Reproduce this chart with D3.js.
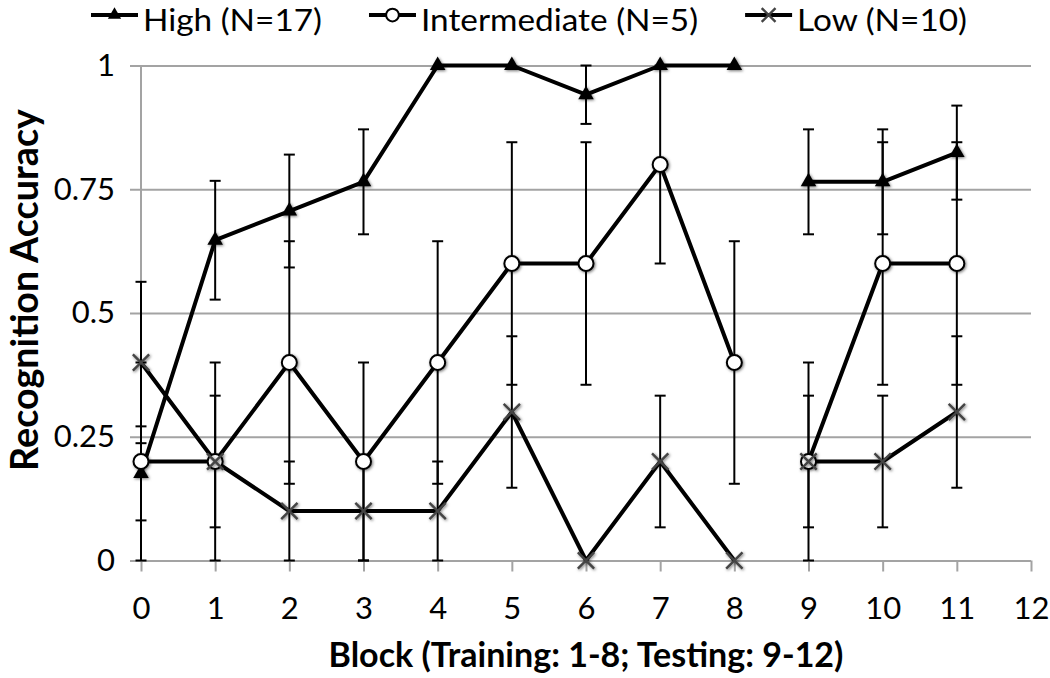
<!DOCTYPE html>
<html><head><meta charset="utf-8">
<script src="https://cdn.jsdelivr.net/npm/d3@7"></script>
<style>
body{margin:0;background:#fff;}
svg{display:block;}
text{font-family:Lato,"Open Sans",sans-serif;fill:#000;}
</style>
</head><body>
<svg id="chart" width="1050" height="678"></svg>
<script>
// ---- data ----
const blocks = [0,1,2,3,4,5,6,7,8,9,10,11];
const highValues  = [0.176,0.647,0.706,0.765,1,1,0.941,1,1,0.765,0.765,0.824];
const highErrors  = [0.095,0.120,0.114,0.106,0,0,0.059,0,0,0.106,0.106,0.095];
const interValues = [0.2,0.2,0.4,0.2,0.4,0.6,0.6,0.8,0.4,0.2,0.6,0.6];
const interErrors = [0.2,0.2,0.245,0.2,0.245,0.245,0.245,0.2,0.245,0.2,0.245,0.245];
const lowValues   = [0.4,0.2,0.1,0.1,0.1,0.3,0,0.2,0,0.2,0.2,0.3];
const lowErrors   = [0.163,0.133,0.1,0.1,0.1,0.153,0,0.133,0,0.133,0.133,0.153];
const seriesNames = ["High (N=17)","Intermediate (N=5)","Low (N=10)"];
const segmentStarts = [0, 9];           // training blocks 0-8, testing blocks 9-11
const xTicks = [0,1,2,3,4,5,6,7,8,9,10,11,12];
const yTicks = [0,0.25,0.5,0.75,1];
const yTickLabels = ["0","0.25","0.5","0.75","1"];
const xTitle = "Block (Training: 1-8; Testing: 9-12)";
const yTitle = "Recognition Accuracy";

// ---- layout ----
const svg = d3.select("#chart");
const margin = {left:141, top:65.5};
const width = 890, height = 495;
const gridColor = "#a3a3a3";

const x = d3.scaleLinear().domain([0,12]).range([0,width]);
const y = d3.scaleLinear().domain([0,1]).range([height,0]);

const defs = svg.append("defs");
const f = defs.append("filter").attr("id","glow").attr("x","-50%").attr("y","-50%").attr("width","200%").attr("height","200%");
f.append("feDropShadow").attr("dx",1).attr("dy",1).attr("stdDeviation",1.6)
  .attr("flood-color","#000").attr("flood-opacity",0.55);

const g = svg.append("g").attr("transform",`translate(${margin.left},${margin.top})`);

// y axis with gridlines
const yAxis = g.append("g").attr("transform","translate(-11,0)")
  .call(d3.axisLeft(y).tickValues(yTicks).tickFormat((d,i)=>yTickLabels[i])
        .tickSize(-(width+11)).tickPadding(15));
yAxis.select(".domain").remove();
yAxis.selectAll(".tick line").attr("stroke",gridColor).attr("stroke-width",2);
yAxis.selectAll(".tick text").attr("font-size",31).attr("font-family","Lato");

// vertical axis line
g.append("line").attr("x1",x(0)).attr("x2",x(0)).attr("y1",y(1)).attr("y2",y(0))
  .attr("stroke",gridColor).attr("stroke-width",2);

// x axis ticks
const xAxis = g.append("g").attr("transform",`translate(0,${height})`)
  .call(d3.axisBottom(x).tickValues(xTicks).tickFormat(d3.format("d")).tickSize(11).tickPadding(25));
xAxis.select(".domain").remove();
xAxis.selectAll(".tick line").attr("stroke",gridColor).attr("stroke-width",2);
xAxis.selectAll(".tick text").attr("font-size",31).attr("font-family","Lato");

// series
const series = [
  {name:seriesNames[0], values:highValues,  errors:highErrors,  type:"tri"},
  {name:seriesNames[1], values:interValues, errors:interErrors, type:"circle"},
  {name:seriesNames[2], values:lowValues,   errors:lowErrors,   type:"x"}
];

function drawMarker(sel, type, k){
  k = k || 1;
  if(type==="tri"){
    sel.append("path").attr("d",d3.symbol(d3.symbolTriangle).size(105*k*k)()).attr("fill","#000");
  } else if(type==="circle"){
    sel.append("circle").attr("r",7.5*k).attr("fill","#fff").attr("stroke","#000").attr("stroke-width",2);
  } else {
    sel.append("path").attr("d",d3.symbol(d3.symbolX).size(175*k*k)())
      .attr("fill","none").attr("stroke","#444").attr("stroke-width",2.4);
  }
}

// error bars
const eb = g.append("g");
series.forEach(s=>{
  blocks.forEach((b,i)=>{
    const e = s.errors[i];
    if(!e) return;
    const lo = Math.max(0,s.values[i]-e), hi = Math.min(1,s.values[i]+e);
    const cx = x(b);
    eb.append("line").attr("x1",cx).attr("x2",cx).attr("y1",y(lo)).attr("y2",y(hi))
      .attr("stroke","#000").attr("stroke-width",2);
    [lo,hi].forEach(v=>{
      eb.append("line").attr("x1",cx-5.5).attr("x2",cx+5.5).attr("y1",y(v)).attr("y2",y(v))
        .attr("stroke","#000").attr("stroke-width",2);
    });
  });
});

// lines (broken between training and testing)
const line = d3.line().x(d=>x(d.b)).y(d=>y(d.v));
series.forEach(s=>{
  segmentStarts.forEach((start,k)=>{
    const end = k+1<segmentStarts.length ? segmentStarts[k+1] : blocks.length;
    const pts = blocks.slice(start,end).map((b,j)=>({b, v:s.values[start+j]}));
    g.append("path").datum(pts).attr("d",line).attr("fill","none")
      .attr("stroke","#000").attr("stroke-width",4).attr("stroke-linejoin","round");
  });
});

// markers
series.forEach(s=>{
  blocks.forEach((b,i)=>{
    const m = g.append("g").attr("transform",`translate(${x(b)},${y(s.values[i])})`).attr("filter","url(#glow)");
    drawMarker(m, s.type);
  });
});

// axis titles
const xt = svg.append("text").attr("x",margin.left+width/2).attr("y",667)
  .attr("text-anchor","middle").attr("font-weight","bold").attr("font-size",32).text(xTitle);
const xw = xt.node().getComputedTextLength();
xt.attr("font-size",32*515/xw);
const yt = svg.append("text").attr("transform",`translate(38,290) rotate(-90)`)
  .attr("text-anchor","middle").attr("font-weight","bold").attr("font-size",32).text(yTitle);
const yw = yt.node().getComputedTextLength();
yt.attr("font-size",32*362/yw);

// legend
const leg = svg.append("g");
const legFont = 30;
const legTexts = series.map(s=>leg.append("text").attr("font-size",legFont).attr("y",31).text(s.name));
const natural = legTexts.map(t=>t.node().getComputedTextLength());
const squeeze = 626/d3.sum(natural);
let lx = 91;
series.forEach((s,i)=>{
  const w = natural[i]*squeeze;
  const t = legTexts[i].attr("textLength",w).attr("lengthAdjust","spacingAndGlyphs");
  leg.append("line").attr("x1",lx).attr("x2",lx+47).attr("y1",15).attr("y2",15)
    .attr("stroke","#000").attr("stroke-width",4);
  const m = leg.append("g").attr("transform",`translate(${lx+23.5},15)`);
  drawMarker(m, s.type, 0.85);
  t.attr("x",lx+52);
  lx += 52 + w + 47;
});
</script>
</body></html>
